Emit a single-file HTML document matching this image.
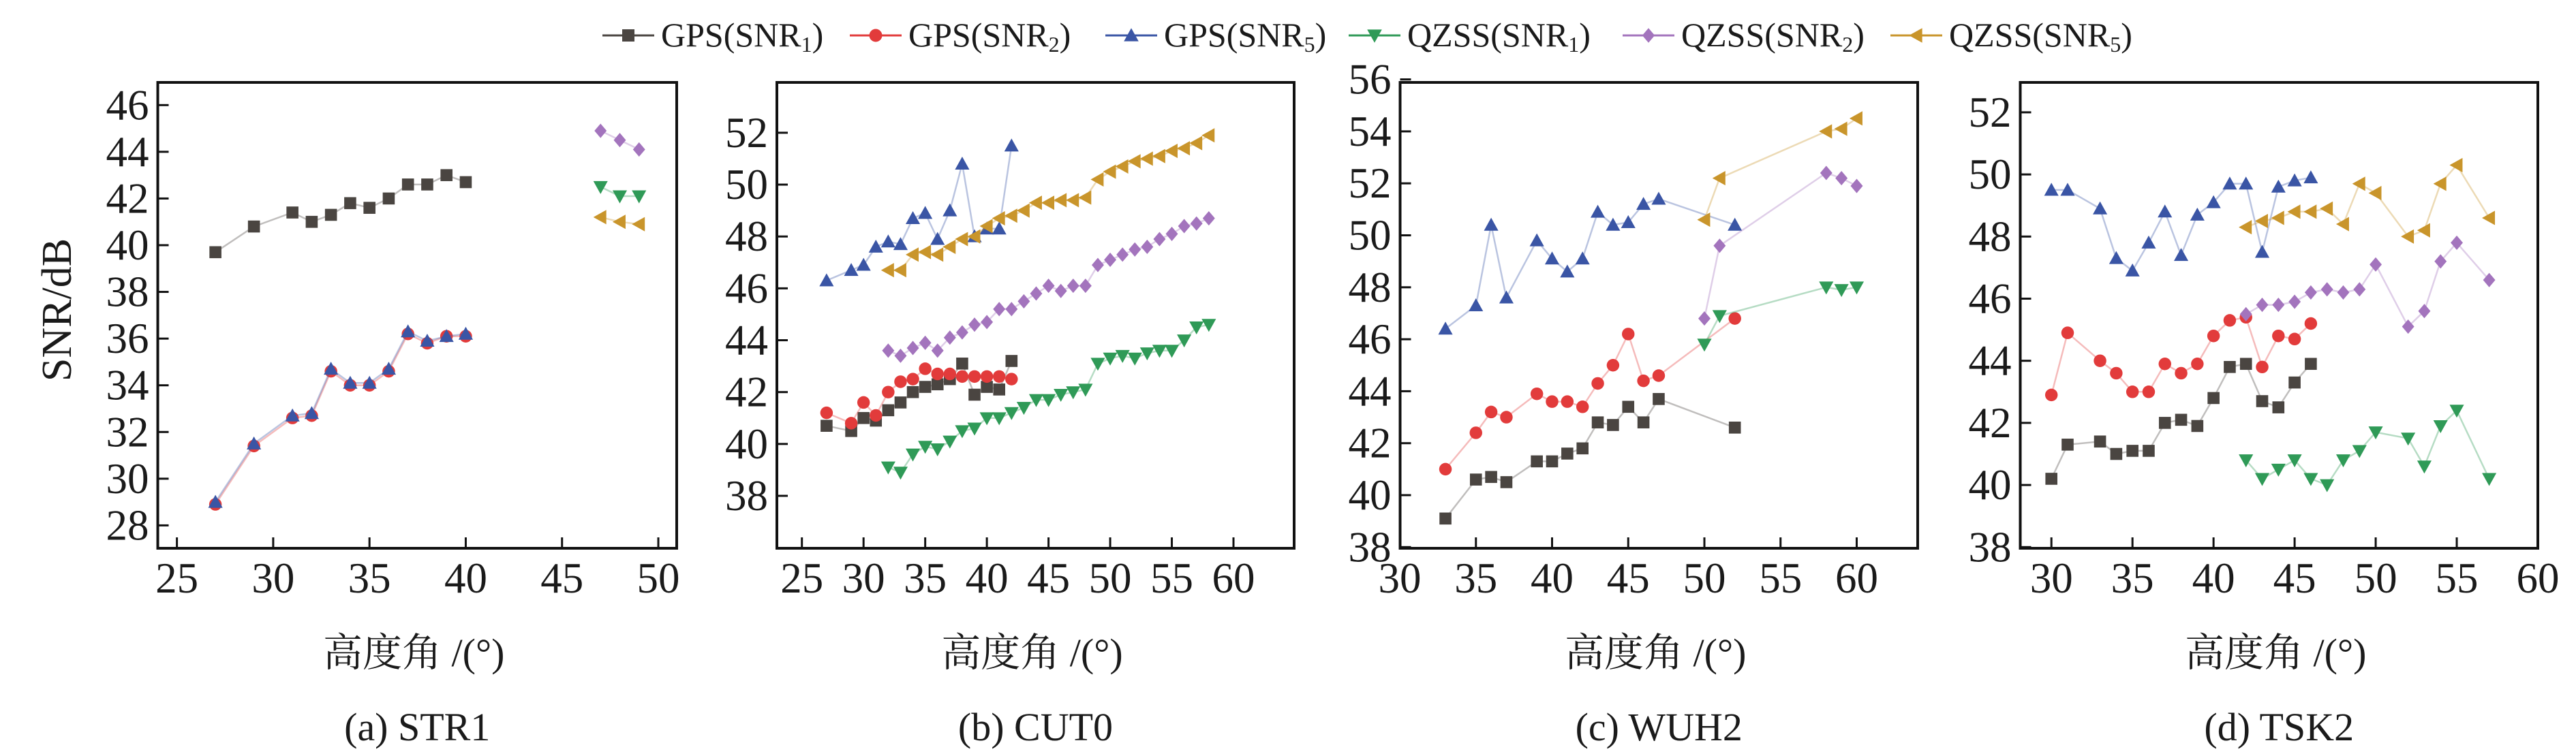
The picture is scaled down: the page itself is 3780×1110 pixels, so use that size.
<!DOCTYPE html>
<html><head><meta charset="utf-8"><style>
html,body{margin:0;padding:0;background:#fff;}
svg{display:block;}
text{font-family:"Liberation Serif","Noto Serif CJK SC",serif;fill:#1a1a1a;}
</style></head><body>
<svg id="chart" width="3780" height="1110" viewBox="0 0 3780 1110" xmlns="http://www.w3.org/2000/svg">
<g id="legend"></g>
<g id="panels"></g>
</svg>
<script>
const seriesNames = ["GPS(SNR1)","GPS(SNR2)","GPS(SNR5)","QZSS(SNR1)","QZSS(SNR2)","QZSS(SNR5)"];
const seriesColors = ["#4a4541","#e23b3b","#3a55a5","#2f9a57","#a374bd","#c9952b"];
const seriesShapes = ["square","circle","up","down","diamond","left"];

// Panel (a) STR1
const aGpsX = [27,29,31,32,33,34,35,36,37,38,39,40];
const aGps1 = [39.7,40.8,41.4,41.0,41.3,41.8,41.6,42.0,42.6,42.6,43.0,42.7];
const aGps2 = [28.9,31.4,32.6,32.7,34.6,34.0,34.0,34.6,36.2,35.8,36.1,36.1];
const aGps5 = [29.0,31.5,32.7,32.8,34.7,34.1,34.1,34.7,36.3,35.9,36.1,36.2];
const aQzX = [47,48,49];
const aQz1 = [42.5,42.1,42.1];
const aQz2 = [44.9,44.5,44.1];
const aQz5 = [41.2,41.0,40.9];
const aXTicks = [25,30,35,40,45,50];
const aYTicks = [28,30,32,34,36,38,40,42,44,46];

// Panel (b) CUT0
const bGpsX = [27,29,30,31,32,33,34,35,36,37,38,39,40,41,42];
const bGps1 = [40.7,40.5,41.0,40.9,41.3,41.6,42.0,42.2,42.3,42.5,43.1,41.9,42.2,42.1,43.2];
const bGps2 = [41.2,40.8,41.6,41.1,42.0,42.4,42.5,42.9,42.7,42.7,42.6,42.6,42.6,42.6,42.5];
const bGps5 = [46.3,46.7,46.9,47.6,47.8,47.7,48.7,48.9,47.9,49.0,50.8,48.0,48.3,48.3,51.5];
const bQzX = [32,33,34,35,36,37,38,39,40,41,42,43,44,45,46,47,48,49,50,51,52,53,54,55,56,57,58];
const bQz1 = [39.1,38.9,39.6,39.9,39.8,40.1,40.5,40.6,41.0,41.0,41.2,41.4,41.7,41.7,41.9,42.0,42.1,43.1,43.3,43.4,43.3,43.5,43.6,43.6,44.0,44.5,44.6];
const bQz2 = [43.6,43.4,43.7,43.9,43.6,44.1,44.3,44.6,44.7,45.2,45.2,45.5,45.8,46.1,45.9,46.1,46.1,46.9,47.1,47.3,47.5,47.6,47.9,48.1,48.4,48.5,48.7];
const bQz5 = [46.7,46.7,47.3,47.4,47.3,47.6,47.9,48.0,48.4,48.7,48.8,49.0,49.3,49.3,49.4,49.4,49.5,50.2,50.5,50.7,50.9,51.0,51.1,51.3,51.4,51.6,51.9];
const bXTicks = [25,30,35,40,45,50,55,60];
const bYTicks = [38,40,42,44,46,48,50,52];

// Panel (c) WUH2
const cGpsX = [33,35,36,37,39,40,41,42,43,44,45,46,47,52];
const cGps1 = [39.1,40.6,40.7,40.5,41.3,41.3,41.6,41.8,42.8,42.7,43.4,42.8,43.7,42.6];
const cGps2 = [41.0,42.4,43.2,43.0,43.9,43.6,43.6,43.4,44.3,45.0,46.2,44.4,44.6,46.8];
const cGps5 = [46.4,47.3,50.4,47.6,49.8,49.1,48.6,49.1,50.9,50.4,50.5,51.2,51.4,50.4];
const cQzX = [50,51,58,59,60];
const cQz1 = [45.8,46.9,48.0,47.9,48.0];
const cQz2 = [46.8,49.6,52.4,52.2,51.9];
const cQz5 = [50.6,52.2,54.0,54.1,54.5];
const cXTicks = [30,35,40,45,50,55,60];
const cYTicks = [38,40,42,44,46,48,50,52,54,56];

// Panel (d) TSK2
const dGpsX = [30,31,33,34,35,36,37,38,39,40,41,42,43,44,45,46];
const dGps1 = [40.2,41.3,41.4,41.0,41.1,41.1,42.0,42.1,41.9,42.8,43.8,43.9,42.7,42.5,43.3,43.9];
const dGps2 = [42.9,44.9,44.0,43.6,43.0,43.0,43.9,43.6,43.9,44.8,45.3,45.4,43.8,44.8,44.7,45.2];
const dGps5 = [49.5,49.5,48.9,47.3,46.9,47.8,48.8,47.4,48.7,49.1,49.7,49.7,47.5,49.6,49.8,49.9];
const dQzX = [42,43,44,45,46,47,48,49,50,52,53,54,55,57];
const dQz1 = [40.8,40.2,40.5,40.8,40.2,40.0,40.8,41.1,41.7,41.5,40.6,41.9,42.4,40.2];
const dQz2 = [45.5,45.8,45.8,45.9,46.2,46.3,46.2,46.3,47.1,45.1,45.6,47.2,47.8,46.6];
const dQz5 = [48.3,48.5,48.6,48.8,48.8,48.9,48.4,49.7,49.4,48.0,48.2,49.7,50.3,48.6];
const dXTicks = [30,35,40,45,50,55,60];
const dYTicks = [38,40,42,44,46,48,50,52];

const NS = "http://www.w3.org/2000/svg";
function mk(tag, attrs, parent){
  const e = document.createElementNS(NS, tag);
  for (const k in attrs) e.setAttribute(k, attrs[k]);
  if (parent) parent.appendChild(e);
  return e;
}
function lin(d0, d1, r0, r1){ return v => r0 + (v - d0) * (r1 - r0) / (d1 - d0); }

function marker(shape, cx, cy, color, parent, s){
  let e;
  if (shape === "square") e = mk("rect", {x:cx-s, y:cy-s, width:2*s, height:2*s, fill:color}, parent);
  else if (shape === "circle") e = mk("circle", {cx:cx, cy:cy, r:s*1.05, fill:color}, parent);
  else {
    let p;
    const t = s*1.2;
    if (shape === "up") p = [[cx,cy-t],[cx+t,cy+t*0.8],[cx-t,cy+t*0.8]];
    else if (shape === "down") p = [[cx,cy+t],[cx+t,cy-t*0.8],[cx-t,cy-t*0.8]];
    else if (shape === "left") p = [[cx-t,cy],[cx+t*0.8,cy-t],[cx+t*0.8,cy+t]];
    else p = [[cx,cy-t],[cx+t*0.85,cy],[cx,cy+t],[cx-t*0.85,cy]];
    e = mk("polygon", {points:p.map(q=>q.join(",")).join(" "), fill:color}, parent);
  }
  return e;
}

// Legend
const legend = document.getElementById("legend");
const legendX = [884, 1247, 1622, 1979, 2381, 2774];
const subs = ["1","2","5","1","2","5"];
const prefixes = ["GPS","GPS","GPS","QZSS","QZSS","QZSS"];
for (let i = 0; i < 6; i++){
  const g = mk("g", {}, legend);
  
  
  const x0 = legendX[i];
  mk("line", {x1:x0, y1:52, x2:x0+76, y2:52, stroke:seriesColors[i], "stroke-width":3}, g);
  marker(seriesShapes[i], x0+38, 52, seriesColors[i], g, 9);
  const t = mk("text", {x:x0+86, y:68, "font-size":50}, g);
  t.appendChild(document.createTextNode(prefixes[i] + "(SNR"));
  const ts = mk("tspan", {"font-size":32, dy:8}, t);
  ts.textContent = subs[i];
  const te = mk("tspan", {dy:-8}, t);
  te.textContent = ")";
}

const panelsRoot = document.getElementById("panels");
const panels = [
  {id:"a", title:"(a) STR1", box:[231.5,121,993,805], xc:[25,259.6,50,966], yc:[28,771.4,46,154.3],
   xt:aXTicks, yt:aYTicks, gx:aGpsX, g:[aGps1,aGps2,aGps5], qx:aQzX, q:[aQz1,aQz2,aQz5], ylabel:true},
  {id:"b", title:"(b) CUT0", box:[1140,121,1899,805], xc:[25,1176.7,60,1810], yc:[38,728,52,194.9],
   xt:bXTicks, yt:bYTicks, gx:bGpsX, g:[bGps1,bGps2,bGps5], qx:bQzX, q:[bQz1,bQz2,bQz5]},
  {id:"c", title:"(c) WUH2", box:[2054.5,121,2814,805], xc:[30,2054,60,2724.5], yc:[38,803.3,56,116.6],
   xt:cXTicks, yt:cYTicks, gx:cGpsX, g:[cGps1,cGps2,cGps5], qx:cQzX, q:[cQz1,cQz2,cQz5]},
  {id:"d", title:"(d) TSK2", box:[2964.5,121,3724,805], xc:[30,3010.2,60,3724],  yc:[38,803.3,52,164.9],
   xt:dXTicks, yt:dYTicks, gx:dGpsX, g:[dGps1,dGps2,dGps5], qx:dQzX, q:[dQz1,dQz2,dQz5]}
];

panels.forEach(P => {
  const g = mk("g", {}, panelsRoot);
  
  
  const [L,T,R,B] = P.box;
  const sx = lin(P.xc[0], P.xc[2], P.xc[1], P.xc[3]);
  const sy = lin(P.yc[0], P.yc[2], P.yc[1], P.yc[3]);
  const frame = mk("rect", {x:L, y:T, width:R-L, height:B-T, fill:"none", stroke:"#111", "stroke-width":4}, g);
  
  
  P.xt.forEach(v => {
    const x = sx(v);
    mk("line", {x1:x, y1:B, x2:x, y2:B-16, stroke:"#111", "stroke-width":3}, g);
    const t = mk("text", {x:x, y:870, "font-size":63, "text-anchor":"middle"}, g);
    t.textContent = v;
    
    
  });
  P.yt.forEach(v => {
    const y = sy(v);
    mk("line", {x1:L, y1:y, x2:L+16, y2:y, stroke:"#111", "stroke-width":3}, g);
    const t = mk("text", {x:L-13, y:y+21, "font-size":63, "text-anchor":"end"}, g);
    t.textContent = v;
    
    
  });
  const xl = mk("text", {x:(L+R)/2 - 5, y:978, "font-size":58, "text-anchor":"middle"}, g);
  xl.textContent = "高度角 /(°)";
  
  
  const tt = mk("text", {x:(L+R)/2, y:1087, "font-size":58, "text-anchor":"middle"}, g);
  tt.textContent = P.title;
  
  
  if (P.ylabel){
    const yl = mk("text", {x:0, y:0, "font-size":62, "text-anchor":"middle", transform:"translate(104,455) rotate(-90)"}, g);
    yl.textContent = "SNR/dB";
    
    
  }
  const groups = [[P.gx,P.g[0],0],[P.gx,P.g[1],1],[P.gx,P.g[2],2],[P.qx,P.q[0],3],[P.qx,P.q[1],4],[P.qx,P.q[2],5]];
  groups.forEach(([xs, ys, si]) => {
    const sg = mk("g", {}, g);
    
    
    const pts = xs.map((x,i) => sx(x).toFixed(1) + "," + sy(ys[i]).toFixed(1)).join(" ");
    mk("polyline", {points:pts, fill:"none", stroke:seriesColors[si], "stroke-opacity":0.35, "stroke-width":2.5}, sg);
    xs.forEach((x,i) => {
      const m = marker(seriesShapes[si], sx(x), sy(ys[i]), seriesColors[si], sg, 8.8);
      
      
    });
  });
});
</script>
</body></html>
